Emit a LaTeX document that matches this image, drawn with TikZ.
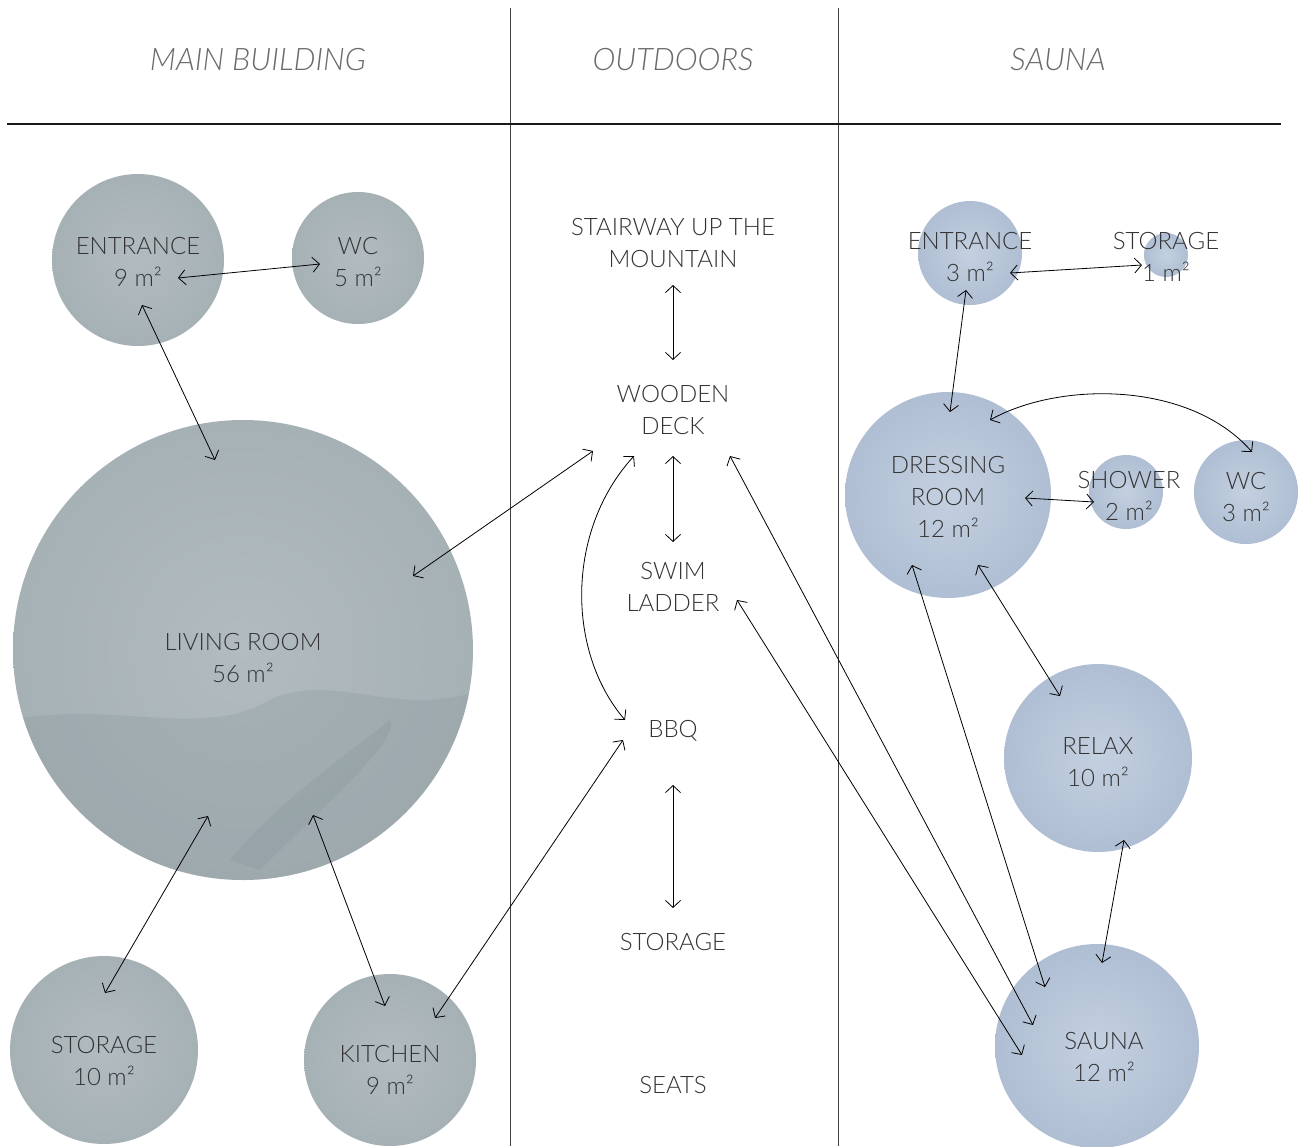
\documentclass[tikz,border=0pt]{standalone}
\usepackage{fontspec}
\setmainfont{Lato}[UprightFont=* Light, ItalicFont=* Light Italic]
\usetikzlibrary{arrows.meta}
\definecolor{mbc}{HTML}{A6B1B5}
\definecolor{mbd}{HTML}{8A989D}
\definecolor{mbl}{HTML}{B2BCC0}
\definecolor{snc}{HTML}{AFBED3}
\definecolor{snl}{HTML}{C3D0E0}
\definecolor{txt}{HTML}{333333}
\definecolor{hdc}{HTML}{6A6A6A}
\begin{document}
\begin{tikzpicture}[x=1pt,y=-1pt,
  room/.style={circle,inner sep=0pt,minimum size=#1},
  mbroom/.style={room=#1,inner color=mbl,outer color=mbc},
  snroom/.style={room=#1,inner color=snl,outer color=snc},
  lbl/.style={font=\fontsize{24}{32}\selectfont,text=txt,align=center},
  hdr/.style={font=\fontsize{31}{36}\selectfont\itshape,text=hdc},
  conn/.style={draw=black,line width=0.8pt,{Straight Barb[length=7pt,width=15pt]}-{Straight Barb[length=7pt,width=15pt]}},
  sepline/.style={draw=black!75,line width=0.9pt}]
\useasboundingbox (0,0) rectangle (1303,1146);
\fill[white] (0,0) rectangle (1303,1146);
% separators
\draw[sepline] (510,8) -- (510,1146);
\draw[sepline] (838,8) -- (838,1146);
\draw[sepline,line width=1.3pt,draw=black!90] (7,124) -- (1281,124);
% headers
\node[hdr] (h1) at (258,60) {MAIN BUILDING};
\node[hdr] (h2) at (673,60) {OUTDOORS};
\node[hdr] (h3) at (1058,60) {SAUNA};
% main building rooms
\node[mbroom=172pt] (ment) at (138,260) {};
\node[mbroom=132pt] (mwc) at (358,258) {};
\node[mbroom=460pt] (mliv) at (243,650) {};
\node[mbroom=188pt] (msto) at (104,1050) {};
\node[mbroom=172pt] (mkit) at (390,1060) {};
\begin{scope}
\clip (243,650) circle[radius=230pt];
\fill[mbd,opacity=.3] (10,720) .. controls (120,700) and (200,740) .. (270,700)
  .. controls (330,670) and (400,720) .. (480,690) -- (480,900) -- (10,900) -- cycle;
\fill[mbd,opacity=.35] (230,860) .. controls (280,800) and (340,760) .. (390,720)
  .. controls (400,740) and (330,800) .. (260,870) -- cycle;
\end{scope}
% sauna rooms
\node[snroom=104pt] (sent) at (970,253) {};
\node[snroom=44pt] (ssto) at (1166,255) {};
\node[snroom=206pt] (sdre) at (948,495) {};
\node[snroom=74pt] (ssho) at (1126,492) {};
\node[snroom=104pt] (swc) at (1246,492) {};
\node[snroom=188pt] (srel) at (1098,758) {};
\node[snroom=204pt] (ssau) at (1097,1046) {};
% labels
\node[lbl] (tment) at (138,262) {ENTRANCE\\9 m²};
\node[lbl] (tmwc) at (358,262) {WC\\5 m²};
\node[lbl] (tmliv) at (243,658) {LIVING ROOM\\56 m²};
\node[lbl] (tmsto) at (104,1061) {STORAGE\\10 m²};
\node[lbl] (tmkit) at (390,1070) {KITCHEN\\9 m²};
\node[lbl] (od1) at (673,243) {STAIRWAY UP THE\\MOUNTAIN};
\node[lbl] (od2) at (673,410) {WOODEN\\DECK};
\node[lbl] (od3) at (673,587) {SWIM\\LADDER};
\node[lbl] (od4) at (673,731) {BBQ};
\node[lbl] (od5) at (673,942) {STORAGE};
\node[lbl] (od6) at (673,1085) {SEATS};
\node[lbl] (tsent) at (970,257) {ENTRANCE\\3 m²};
\node[lbl] (tssto) at (1166,257) {STORAGE\\1 m²};
\node[lbl] (tsdre) at (948,497) {DRESSING\\ROOM\\12 m²};
\node[lbl] (tssho) at (1129,496) {SHOWER\\2 m²};
\node[lbl] (tswc) at (1246,497) {WC\\3 m²};
\node[lbl] (tsrel) at (1098,762) {RELAX\\10 m²};
\node[lbl] (tssau) at (1104,1057) {SAUNA\\12 m²};
% connectors main building
\draw[conn] ([shift={(40,18)}]ment.center) -- ([shift={(-38,6)}]mwc.center);
\draw[conn] ([shift={(4,45)}]ment.center) -- ([shift={(-28,-190)}]mliv.center);
\draw[conn] ([shift={(170,-74)}]mliv.center) -- ([shift={(-80,41)}]od2.center);
\draw[conn] ([shift={(-35,166)}]mliv.center) -- ([shift={(1,-57)}]msto.center);
\draw[conn] ([shift={(70,165)}]mliv.center) -- ([shift={(-5,-54)}]mkit.center);
\draw[conn] ([shift={(-50,9)}]od4.center) -- ([shift={(45,-42)}]mkit.center);
% outdoors
\draw[conn] ([shift={(0,42)}]od1.center) -- ([shift={(0,-50)}]od2.center);
\draw[conn] ([shift={(0,46)}]od2.center) -- ([shift={(0,-45)}]od3.center);
\draw[conn] ([shift={(-39,46)}]od2.center) .. controls ([shift={(-107,120)}]od2.center) and ([shift={(-107,-80)}]od4.center) .. ([shift={(-48,-11)}]od4.center);
\draw[conn] ([shift={(0,54)}]od4.center) -- ([shift={(0,-34)}]od5.center);
\draw[conn] ([shift={(57,46)}]od2.center) -- ([shift={(-64,-21)}]ssau.center);
\draw[conn] ([shift={(64,13)}]od3.center) -- ([shift={(-75,9)}]ssau.center);
% sauna
\draw[conn] ([shift={(40,20)}]sent.center) -- ([shift={(-24,10)}]ssto.center);
\draw[conn] ([shift={(-4,37)}]sent.center) -- ([shift={(2,-83)}]sdre.center);
\draw[conn] ([shift={(42,-75)}]sdre.center) .. controls ([shift={(112,-114)}]sdre.center) and ([shift={(-56,-111)}]swc.center) .. ([shift={(6,-40)}]swc.center);
\draw[conn] ([shift={(77,3)}]sdre.center) -- ([shift={(-32,10)}]ssho.center);
\draw[conn] ([shift={(30,70)}]sdre.center) -- ([shift={(-38,-62)}]srel.center);
\draw[conn] ([shift={(-36,70)}]sdre.center) -- ([shift={(-52,-59)}]ssau.center);
\draw[conn] ([shift={(26,82)}]srel.center) -- ([shift={(5,-83)}]ssau.center);
\end{tikzpicture}
\end{document}
